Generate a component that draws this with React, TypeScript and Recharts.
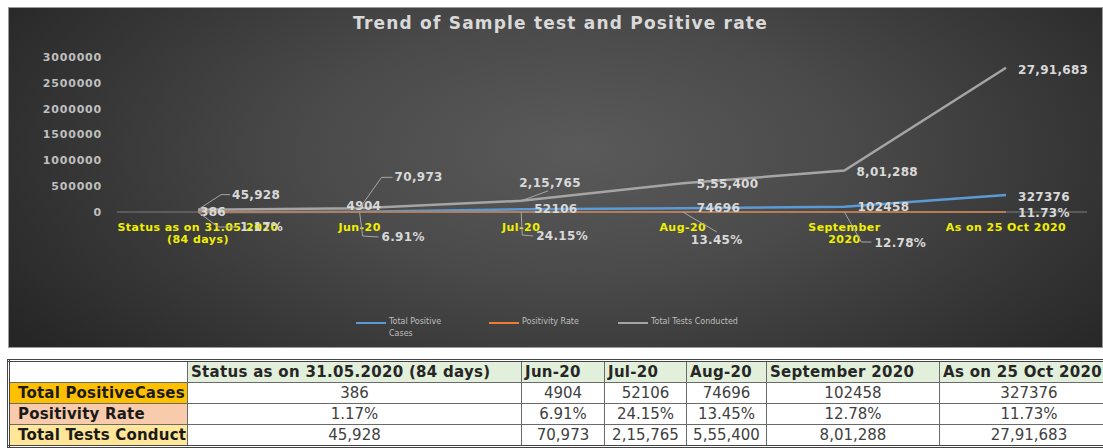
import React from 'react';
import { LineChart, Line, XAxis, YAxis, Legend, LabelList } from 'recharts';

// 数据
const categories = [
  'Status as on 31.05.2020 (84 days)',
  'Jun-20',
  'Jul-20',
  'Aug-20',
  'September 2020',
  'As on 25 Oct 2020',
];
const xTickLines = [
  ['Status as on 31.05.2020', '(84 days)'],
  ['Jun-20'],
  ['Jul-20'],
  ['Aug-20'],
  ['September', '2020'],
  ['As on 25 Oct 2020'],
];
const seriesNames = ['Total Positive Cases', 'Positivity Rate', 'Total Tests Conducted'];
const totalPositive = [386, 4904, 52106, 74696, 102458, 327376];
const positivityRate = [1.17, 6.91, 24.15, 13.45, 12.78, 11.73]; // percent
const totalTests = [45928, 70973, 215765, 555400, 801288, 2791683];
const yTicks = [0, 500000, 1000000, 1500000, 2000000, 2500000, 3000000];

const chartData = categories.map((c, i) => ({
  category: c,
  positive: totalPositive[i],
  rate: positivityRate[i] / 100,
  tests: totalTests[i],
}));

const FONT = '"DejaVu Sans", sans-serif';

// Indian digit grouping: 2791683 -> 27,91,683
const indian = (n: number) => {
  const s = String(n);
  if (s.length <= 3) return s;
  const last3 = s.slice(-3);
  let rest = s.slice(0, -3);
  const parts: string[] = [];
  while (rest.length > 2) {
    parts.unshift(rest.slice(-2));
    rest = rest.slice(0, -2);
  }
  if (rest) parts.unshift(rest);
  return parts.join(',') + ',' + last3;
};
const pct = (v: number) => v.toFixed(2) + '%';

// label placement (offset from the point, optional leader line)
type LabelPos = { dx: number; dy: number; leader?: number[][] };
const testsPos: LabelPos[] = [
  { dx: 34, dy: -15, leader: [[23, -15], [32, -15]] },
  { dx: 35, dy: -31, leader: [[22, -31], [33, -31]] },
  { dx: -2, dy: -18, leader: [[27, -10]] },
  { dx: 14, dy: 1 },
  { dx: 12, dy: 1 },
  { dx: 12, dy: 2 },
];
const positivePos: LabelPos[] = [
  { dx: 2, dy: 0 },
  { dx: -13, dy: -6 },
  { dx: 13, dy: 0 },
  { dx: 14, dy: 0 },
  { dx: 13, dy: 0 },
  { dx: 12, dy: 2 },
];
const ratePos: LabelPos[] = [
  { dx: 42, dy: 15, leader: [[20, 15], [39, 15]] },
  { dx: 22, dy: 25, leader: [[3, 24], [19, 25]] },
  { dx: 15, dy: 24, leader: [[1, 23], [12, 24]] },
  { dx: 8, dy: 28, leader: [[34, 20]] },
  { dx: 30, dy: 31, leader: [[17, 30], [27, 30]] },
  { dx: 12, dy: 1 },
];

const makeLabel = (pos: LabelPos[], text: (i: number) => string) => (props: any) => {
  const x = props.x ?? props.viewBox?.x;
  const y = props.y ?? props.viewBox?.y;
  const index = props.index ?? 0;
  const p = pos[index];
  if (!p || x == null || y == null) return null;
  const pts = p.leader
    ? [[0, 0], ...p.leader].map(([a, b]) => `${x + a},${y + b}`).join(' ')
    : null;
  return (
    <g key={`lbl-${index}`}>
      {pts && <polyline points={pts} fill="none" stroke="#a6a6a6" strokeWidth={1} />}
      <text
        x={x + p.dx}
        y={y + p.dy}
        dominantBaseline="central"
        fill="#d9d9d9"
        fontFamily={FONT}
        fontSize={12}
        fontWeight="bold"
        letterSpacing={0.3}
      >
        {text(index)}
      </text>
    </g>
  );
};

const XTick = ({ x, y, payload }: any) => {
  const lines = xTickLines[payload.index] || [payload.value];
  return (
    <text
      x={x}
      y={y + 19}
      textAnchor="middle"
      fill="#f0f000"
      fontFamily={FONT}
      fontSize={11}
      fontWeight="bold"
      letterSpacing={0.45}
    >
      {lines.map((l: string, i: number) => (
        <tspan key={i} x={x} dy={i === 0 ? 0 : 12}>
          {l}
        </tspan>
      ))}
    </text>
  );
};

const legendWidths = [133, 129, 170];
const legendTextWidths = [74, 96, 140];
const CustomLegend = ({ payload }: any) => {
  const items = [...(payload || [])].sort(
    (a: any, b: any) => seriesNames.indexOf(a.value) - seriesNames.indexOf(b.value)
  );
  return (
    <div style={{ display: 'flex', height: 26, paddingLeft: 348, fontFamily: FONT }}>
      {items.map((item: any, i: number) => (
        <div key={i} style={{ display: 'flex', width: legendWidths[i], alignItems: 'flex-start' }}>
          <div style={{ width: 30, height: 2, background: item.color, marginTop: 6, flexShrink: 0 }} />
          <div
            style={{
              fontSize: 8,
              color: '#bfbfbf',
              marginLeft: 3,
              width: legendTextWidths[i],
              lineHeight: '12px',
            }}
          >
            {item.value}
          </div>
        </div>
      ))}
    </div>
  );
};

const headerBg = '#e2efda';
const rowLabels = [
  { label: 'Total PositiveCases', bg: '#ffc000' },
  { label: 'Positivity Rate', bg: '#f8cbad' },
  { label: 'Total Tests Conducted', bg: '#ffe699' },
];
const colWidths = [179, 334, 83, 82, 80, 173, 180];

const cell: React.CSSProperties = {
  border: '1px solid #6a6a6a',
  height: 20,
  padding: '0 3px',
  whiteSpace: 'nowrap',
  overflow: 'hidden',
  fontSize: 15,
};

export default function App() {
  const rows = [
    totalPositive.map((v) => String(v)),
    positivityRate.map(pct),
    totalTests.map(indian),
  ];
  return (
    <div
      style={{
        position: 'fixed',
        left: 0,
        top: 0,
        width: 1103,
        height: 448,
        overflow: 'hidden',
        background: '#fff',
        fontFamily: FONT,
      }}
    >
      <div
        style={{
          position: 'absolute',
          left: 8,
          top: 7,
          width: 1095,
          height: 341,
          background:
            'radial-gradient(ellipse 62% 95% at 52% 42%, #5a5a5a 0%, #4a4a4a 40%, #353535 75%, #262626 100%)',
          border: '1px solid #9a9a9a',
          boxSizing: 'border-box',
        }}
      >
        <div
          style={{
            position: 'absolute',
            top: 5,
            left: 4,
            width: 1095,
            textAlign: 'center',
            color: '#d9d9d9',
            fontSize: 17,
            fontWeight: 'bold',
            letterSpacing: 1.2,
            zIndex: 2,
          }}
        >
          Trend of Sample test and Positive rate
        </div>
        <LineChart
          width={1095}
          height={341}
          data={chartData}
          margin={{ top: 50, right: 16, left: 0, bottom: 6 }}
          style={{ position: 'absolute', left: -1, top: -1 }}
        >
          <XAxis
            dataKey="category"
            interval={0}
            height={104}
            padding={{ left: 81, right: 81 }}
            tickLine={false}
            tickSize={0}
            tickMargin={0}
            axisLine={{ stroke: '#7f7f7f', strokeWidth: 1 }}
            tick={<XTick />}
          />
          <YAxis
            width={109}
            domain={[0, 3000000]}
            ticks={yTicks}
            interval={0}
            axisLine={false}
            tickLine={false}
            tickSize={0}
            tickMargin={15}
            tick={{ fill: '#bfbfbf', fontSize: 11, fontWeight: 'bold', fontFamily: FONT, letterSpacing: 0.8 }}
          />
          <Legend verticalAlign="bottom" wrapperStyle={{ left: 0, width: 1095 }} content={<CustomLegend />} />
          <Line
            name={seriesNames[0]}
            dataKey="positive"
            type="linear"
            stroke="#5b9bd5"
            strokeWidth={2.5}
            dot={false}
            isAnimationActive={false}
          >
            <LabelList dataKey="positive" content={makeLabel(positivePos, (i) => String(totalPositive[i]))} />
          </Line>
          <Line
            name={seriesNames[1]}
            dataKey="rate"
            type="linear"
            stroke="#ed7d31"
            strokeWidth={2}
            dot={false}
            isAnimationActive={false}
          >
            <LabelList dataKey="rate" content={makeLabel(ratePos, (i) => pct(positivityRate[i]))} />
          </Line>
          <Line
            name={seriesNames[2]}
            dataKey="tests"
            type="linear"
            stroke="#a5a5a5"
            strokeWidth={2.5}
            dot={false}
            isAnimationActive={false}
          >
            <LabelList dataKey="tests" content={makeLabel(testsPos, (i) => indian(totalTests[i]))} />
          </Line>
        </LineChart>
      </div>

      <table
        style={{
          position: 'absolute',
          left: 7,
          top: 359,
          borderCollapse: 'collapse',
          tableLayout: 'fixed',
          width: colWidths.reduce((a, b) => a + b, 0),
          border: '3px double #444',
          fontFamily: FONT,
          color: '#404040',
        }}
      >
        <colgroup>
          {colWidths.map((w, i) => (
            <col key={i} style={{ width: w }} />
          ))}
        </colgroup>
        <tbody>
          <tr>
            <td style={{ ...cell, background: '#fff' }} />
            {categories.map((c) => (
              <td
                key={c}
                style={{
                  ...cell,
                  background: headerBg,
                  fontWeight: 'bold',
                  color: '#262626',
                  textAlign: 'left',
                  letterSpacing: 0.3,
                }}
              >
                {c}
              </td>
            ))}
          </tr>
          {rowLabels.map((r, ri) => (
            <tr key={r.label}>
              <td
                style={{
                  ...cell,
                  background: r.bg,
                  fontWeight: 'bold',
                  color: '#1a1a1a',
                  padding: '0 0 0 8px',
                  letterSpacing: 0.2,
                }}
              >
                {r.label}
              </td>
              {rows[ri].map((v, ci) => (
                <td key={ci} style={{ ...cell, textAlign: 'center', background: '#fff' }}>
                  {v}
                </td>
              ))}
            </tr>
          ))}
        </tbody>
      </table>
    </div>
  );
}
